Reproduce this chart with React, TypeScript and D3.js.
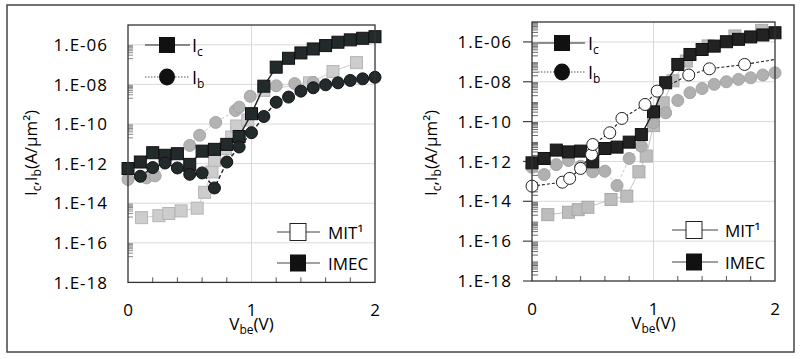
import React from 'react';
import * as d3 from 'd3';

const FONT = "'Open Sans', 'Liberation Sans', sans-serif";

// ---------- DATA (currents stored as log10 of A/µm²) ----------
const vbeFull = [0, 0.1, 0.2, 0.3, 0.4, 0.5, 0.6, 0.7, 0.8, 0.9, 1.0, 1.1, 1.2, 1.3, 1.4, 1.5, 1.6, 1.7, 1.8, 1.9, 2.0];
const vbeFrom01 = [0.1, 0.2, 0.3, 0.4, 0.5, 0.6, 0.7, 0.8, 0.9, 1.0, 1.1, 1.2, 1.3, 1.4, 1.5, 1.6, 1.7, 1.8, 1.9, 2.0];

// Left panel
const leftImecIc = [-12.25, -11.92, -11.45, -11.58, -11.5, -12.04, -11.37, -11.28, -11.03, -10.63, -9.48, -8.09, -7.13, -6.68, -6.41, -6.21, -6.04, -5.87, -5.75, -5.67, -5.59];
const leftImecIb = [-12.64, -12.2, -11.97, -12.22, -12.54, -12.47, -13.23, -11.92, -11.16, -10.44, -9.62, -8.9, -8.64, -8.34, -8.17, -8.02, -7.92, -7.8, -7.72, -7.64];
const leftMitIcVbe = [0.11, 0.25, 0.33, 0.43, 0.56, 0.62, 0.68, 0.70, 0.79, 0.84, 0.88, 0.97, 1.1, 1.47, 1.66, 1.85];
const leftMitIc = [-14.73, -14.63, -14.52, -14.39, -14.25, -13.45, -12.42, -11.83, -11.24, -10.66, -10.1, -9.8, -8.3, -7.92, -7.35, -6.9];
const leftMitIbVbe = [0, 0.15, 0.22, 0.5, 0.58, 0.71, 0.87, 0.9, 0.99, 1.2, 1.35, 1.5];
const leftMitIb = [-12.8, -12.72, -12.62, -11.08, -10.57, -9.92, -9.32, -9.15, -8.6, -8.07, -7.96, -7.9];

// Right panel
const rightImecIc = [-12.07, -11.85, -11.43, -11.52, -11.48, -12.02, -11.35, -11.28, -11.03, -10.65, -9.51, -8.05, -7.13, -6.63, -6.38, -6.21, -5.99, -5.87, -5.75, -5.65, -5.54];
const rightGrayIb = [-12.29, -12.66, -12.16, -11.95, -12.24, -12.52, -12.49, -13.21, -11.85, -11.23, -10.06, -9.56, -8.94, -8.55, -8.34, -8.13, -8.0, -7.88, -7.8, -7.66, -7.55];
const rightOpenIbVbe = [0, 0.25, 0.31, 0.4, 0.49, 0.5, 0.64, 0.74, 0.93, 1.03, 1.29, 1.46, 1.75, 2.0];
const rightOpenIb = [-13.24, -13.04, -12.85, -12.35, -11.65, -11.15, -10.56, -9.84, -9.14, -8.47, -7.66, -7.35, -7.13, -6.88];
const rightGrayIcVbe = [0.13, 0.3, 0.38, 0.46, 0.65, 0.78, 0.88, 0.94, 1.0, 1.08, 1.16, 1.27, 1.45, 1.67, 1.89];
const rightGrayIc = [-14.67, -14.55, -14.42, -14.3, -13.91, -13.74, -12.52, -11.73, -10.2, -9.06, -7.95, -6.96, -6.2, -5.7, -5.42];

// Axes
const yTickValues = [1e-6, 1e-8, 1e-10, 1e-12, 1e-14, 1e-16, 1e-18];
const yTickLabels = ['1.E-06', '1.E-08', '1.E-10', '1.E-12', '1.E-14', '1.E-16', '1.E-18'];
const xTickValues = [0, 1, 2];
const xTickLabels = ['0', '1', '2'];
const xMinorValues = [0.2, 0.4, 0.6, 0.8, 1.2, 1.4, 1.6, 1.8];
const legendCurrentSubs = ['c', 'b'];
const legendSources = ['MIT¹', 'IMEC'];

type Series = {
  xs: number[];
  ys: number[];
  marker: 'square' | 'circle';
  fill: string;
  stroke: string;
  line: string;
  lineWidth: number;
  dash?: string;
  skipLastMarker?: boolean;
};

type PanelProps = {
  l: number; r: number; t: number; b: number;
  series: Series[];
  yLabelX: number;
  outerTicks: boolean;
  minorExps: number[];
  minorLen: number;
  minorColor: string;
  topLeg: { x0: number; xm: number; x1: number; tx: number; yc: number; yb: number };
  botLeg: { x0: number; xm: number; x1: number; tx: number; y1: number; y2: number };
};

function Panel(p: PanelProps) {
  const x = d3.scaleLinear().domain([0, 2]).range([p.l, p.r]);
  const y = d3.scaleLog().domain([1e-18, 1e-5]).range([p.b, p.t]);
  const lineGen = d3.line<[number, number]>().x(d => x(d[0])).y(d => y(Math.pow(10, d[1])));

  const minor: number[] = [];
  p.minorExps.forEach(e => {
    for (let k = 2; k <= 9; k++) minor.push(k * Math.pow(10, e));
  });

  const sq = 12;
  const cr = 6;

  return (
    <g>
      {/* grid */}
      {yTickValues.slice(0, 6).map((v, i) => (
        <line key={'g' + i} x1={p.l} x2={p.r} y1={y(v)} y2={y(v)} stroke="#dadada" strokeWidth={1} />
      ))}
      <line x1={x(1)} x2={x(1)} y1={p.t} y2={p.b} stroke="#dadada" strokeWidth={1} />

      {/* minor ticks */}
      {minor.map((v, i) => (
        <line key={'m' + i} x1={p.l} x2={p.l + p.minorLen} y1={y(v)} y2={y(v)} stroke={p.minorColor} strokeWidth={1} />
      ))}
      {xMinorValues.map((v, i) => (
        <line key={'xm' + i} x1={x(v)} x2={x(v)} y1={p.b} y2={p.b - 5} stroke="#555" strokeWidth={1} />
      ))}
      {p.outerTicks && yTickValues.map((v, i) => (
        <line key={'ot' + i} x1={p.l - 9} x2={p.l} y1={y(v)} y2={y(v)} stroke="#444" strokeWidth={1.2} />
      ))}

      {/* series */}
      {p.series.map((s, si) => {
        const pts: [number, number][] = s.xs.map((xv, i) => [xv, s.ys[i]]);
        const mpts = s.skipLastMarker ? pts.slice(0, -1) : pts;
        return (
          <g key={'s' + si}>
            <path d={lineGen(pts) || ''} fill="none" stroke={s.line} strokeWidth={s.lineWidth} strokeDasharray={s.dash} />
            {mpts.map((d, i) =>
              s.marker === 'square' ? (
                <rect key={i} x={x(d[0]) - sq / 2} y={y(Math.pow(10, d[1])) - sq / 2} width={sq} height={sq}
                  fill={s.fill} stroke={s.stroke} strokeWidth={1} />
              ) : (
                <circle key={i} cx={x(d[0])} cy={y(Math.pow(10, d[1]))} r={cr} fill={s.fill} stroke={s.stroke} strokeWidth={1} />
              )
            )}
          </g>
        );
      })}

      {/* frame */}
      <rect x={p.l} y={p.t} width={p.r - p.l} height={p.b - p.t} fill="none" stroke="#333" strokeWidth={1.3} />

      {/* y tick labels */}
      {yTickValues.map((v, i) => (
        <text key={'yl' + i} x={p.l - 20} y={y(v)} dy="0.36em" textAnchor="end" fontFamily={FONT} fontSize={17}
          letterSpacing={1} fill="#000">{yTickLabels[i]}</text>
      ))}
      {/* x tick labels */}
      {xTickValues.map((v, i) => (
        <text key={'xl' + i} x={x(v)} y={p.b + 34} textAnchor="middle" fontFamily={FONT} fontSize={17} fill="#000">{xTickLabels[i]}</text>
      ))}
      {/* x title */}
      <text x={x(1)} y={p.b + 48} textAnchor="middle" fontFamily={FONT} fontSize={17} fill="#000">
        V<tspan fontSize={12} dy={4}>be</tspan><tspan dy={-4}>(V)</tspan>
      </text>
      {/* y title */}
      <text transform={`translate(${p.yLabelX},${153}) rotate(-90)`} textAnchor="middle" fontFamily={FONT} fontSize={17} fill="#000">
        I<tspan fontSize={12} dy={4}>c</tspan><tspan dy={-4}>,I</tspan><tspan fontSize={12} dy={4}>b</tspan><tspan dy={-4}>(A/μm²)</tspan>
      </text>

      {/* top-left legend */}
      <line x1={p.topLeg.x0} x2={p.topLeg.x1} y1={p.topLeg.yc} y2={p.topLeg.yc} stroke="#222" strokeWidth={1} />
      <rect x={p.topLeg.xm - 8} y={p.topLeg.yc - 8} width={16} height={16} fill="#111" />
      <text x={p.topLeg.tx} y={p.topLeg.yc + 7} fontFamily={FONT} fontSize={18} fill="#000">
        I<tspan fontSize={12} dy={4}>{legendCurrentSubs[0]}</tspan>
      </text>
      <line x1={p.topLeg.x0} x2={p.topLeg.x1} y1={p.topLeg.yb} y2={p.topLeg.yb} stroke="#555" strokeWidth={1} strokeDasharray="1.5,1.5" />
      <ellipse cx={p.topLeg.xm} cy={p.topLeg.yb} rx={8} ry={8.5} fill="#111" />
      <text x={p.topLeg.tx} y={p.topLeg.yb + 7} fontFamily={FONT} fontSize={18} fill="#000">
        I<tspan fontSize={12} dy={4}>{legendCurrentSubs[1]}</tspan>
      </text>

      {/* bottom-right legend */}
      <line x1={p.botLeg.x0} x2={p.botLeg.x1} y1={p.botLeg.y1} y2={p.botLeg.y1} stroke="#444" strokeWidth={1} />
      <rect x={p.botLeg.xm - 8} y={p.botLeg.y1 - 8.5} width={16} height={17} fill="#fff" stroke="#222" strokeWidth={1} />
      <text x={p.botLeg.tx} y={p.botLeg.y1 + 6.5} fontFamily={FONT} fontSize={17} fill="#000">{legendSources[0]}</text>
      <line x1={p.botLeg.x0} x2={p.botLeg.x1} y1={p.botLeg.y2} y2={p.botLeg.y2} stroke="#444" strokeWidth={1} />
      <rect x={p.botLeg.xm - 8} y={p.botLeg.y2 - 8.5} width={16} height={17} fill="#111" />
      <text x={p.botLeg.tx} y={p.botLeg.y2 + 6.5} fontFamily={FONT} fontSize={17} fill="#000">{legendSources[1]}</text>
    </g>
  );
}

export default function App() {
  const leftSeries: Series[] = [
    { xs: leftMitIcVbe, ys: leftMitIc, marker: 'square', fill: '#cdcdcd', stroke: '#b5b5b5', line: '#cfcfcf', lineWidth: 1 },
    { xs: leftMitIbVbe, ys: leftMitIb, marker: 'circle', fill: '#b3b3b3', stroke: '#a5a5a5', line: '#c8c8c8', lineWidth: 1, dash: '3,2' },
    { xs: vbeFull, ys: leftImecIc, marker: 'square', fill: '#222a2c', stroke: '#111', line: '#222', lineWidth: 1.4 },
    { xs: vbeFrom01, ys: leftImecIb, marker: 'circle', fill: '#222a2c', stroke: '#111', line: '#222', lineWidth: 1.4, dash: '4,2.5' },
  ];
  const rightSeries: Series[] = [
    { xs: rightGrayIcVbe, ys: rightGrayIc, marker: 'square', fill: '#bdbdbd', stroke: '#a8a8a8', line: '#c4c4c4', lineWidth: 1 },
    { xs: vbeFull, ys: rightGrayIb, marker: 'circle', fill: '#b0b0b0', stroke: '#a4a4a4', line: '#c8c8c8', lineWidth: 1, dash: '3,2' },
    { xs: vbeFull, ys: rightImecIc, marker: 'square', fill: '#222', stroke: '#111', line: '#222', lineWidth: 1.4 },
    { xs: rightOpenIbVbe, ys: rightOpenIb, marker: 'circle', fill: '#fff', stroke: '#222', line: '#222', lineWidth: 1.1, dash: '3,2', skipLastMarker: true },
  ];

  return (
    <svg width={800} height={359} style={{ position: 'absolute', left: 0, top: 0, background: '#fff' }}>
      <rect x={0} y={0} width={800} height={359} fill="#fff" />
      <rect x={7} y={5} width={787} height={347} fill="none" stroke="#444" strokeWidth={1.5} />
      <Panel l={128} r={375} t={25} b={282.4} series={leftSeries} yLabelX={36.5} outerTicks={false}
        minorExps={[-17, -15, -13, -11, -9, -7]} minorLen={5} minorColor="#8a8a8a"
        topLeg={{ x0: 145, xm: 167, x1: 190, tx: 192, yc: 45, yb: 77 }}
        botLeg={{ x0: 277, xm: 298, x1: 320, tx: 328, y1: 232, y2: 263 }} />
      <Panel l={532} r={775} t={22} b={281} series={rightSeries} yLabelX={436.5} outerTicks={true}
        minorExps={[-18, -17, -16, -15, -14, -13, -12, -11, -10, -9, -8, -7, -6]} minorLen={6} minorColor="#6a6a6a"
        topLeg={{ x0: 538, xm: 562, x1: 585, tx: 588, yc: 43, yb: 72 }}
        botLeg={{ x0: 672, xm: 694, x1: 718, tx: 725, y1: 230, y2: 262 }} />
    </svg>
  );
}
